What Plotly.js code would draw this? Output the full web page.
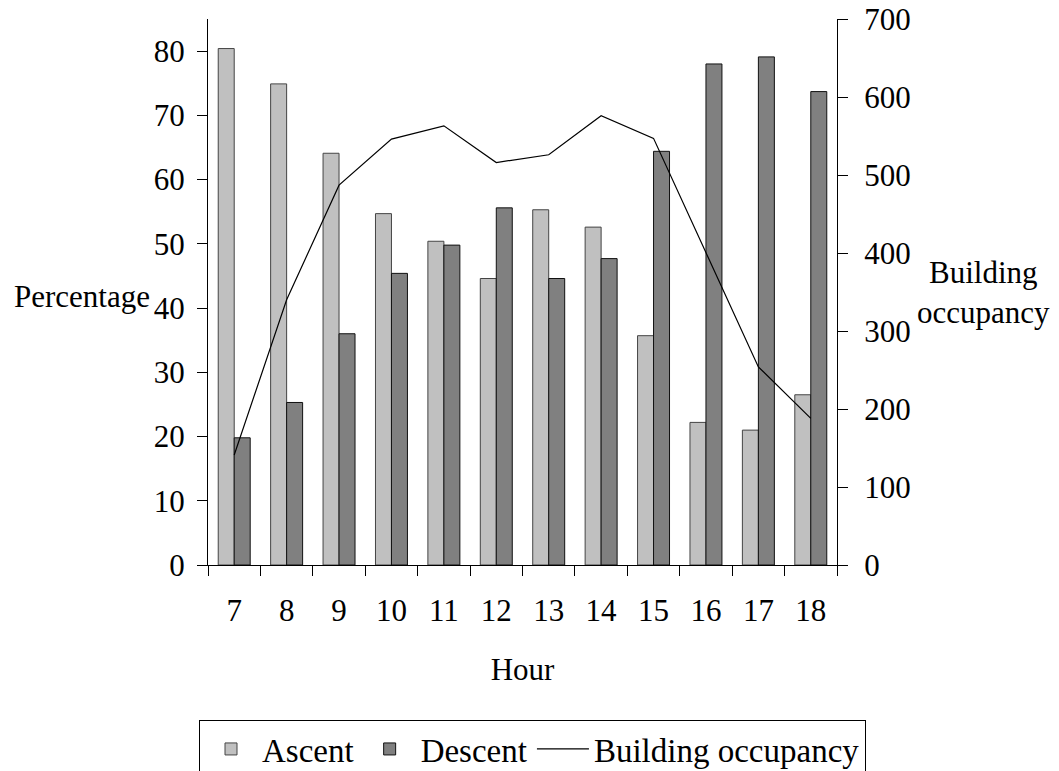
<!DOCTYPE html>
<html>
<head>
<meta charset="utf-8">
<script src="https://cdn.plot.ly/plotly-3.0.1.min.js"></script>
<style>html,body{margin:0;padding:0;background:#fff;}#chart{width:1059px;height:771px;}</style>
</head>
<body>
<div id="chart"></div>
<script>
const hours = ['7','8','9','10','11','12','13','14','15','16','17','18'];
const ascent = [80.4,74.9,64.1,54.7,50.4,44.6,55.3,52.6,35.7,22.2,21.0,26.5];
const descent = [19.8,25.3,36.0,45.4,49.8,55.6,44.6,47.7,64.4,78.0,79.1,73.7];
const occupancy = [141,340,487,546,563,516,526,576,547,400,254,188];

const FONT = 'Liberation Serif, Times New Roman, serif';
const FS = 31;

const traces = [
  {type:'bar', name:'Ascent', x:hours, y:ascent, yaxis:'y',
   marker:{color:'#c0c0c0', line:{color:'#444', width:1}}},
  {type:'bar', name:'Descent', x:hours, y:descent, yaxis:'y',
   marker:{color:'#808080', line:{color:'#111', width:1}}},
  {type:'scatter', mode:'lines', name:'Building occupancy', x:hours, y:occupancy, yaxis:'y2',
   line:{color:'#000', width:1.2}}
];

const common = {showgrid:false, zeroline:false, tickcolor:'#000', tickwidth:1, linecolor:'#000', linewidth:1, automargin:false};

const layout = {
  width:1059, height:771,
  margin:{l:208, r:222, t:19, b:206, autoexpand:false},
  paper_bgcolor:'#fff', plot_bgcolor:'#fff',
  font:{family:FONT, size:FS, color:'#000'},
  barmode:'group', bargap:0.39, bargroupgap:0,
  showlegend:true,
  legend:{orientation:'h', x:(199-208)/629, xanchor:'left',
          y:-(720-565)/546, yanchor:'top',
          bordercolor:'#000', borderwidth:1, font:{family:FONT, size:33},
          traceorder:'normal', itemwidth:52},
  xaxis:Object.assign({}, common, {type:'category', range:[-0.5,11.5], showline:true,
          ticks:'outside', ticklen:10, tickson:'boundaries', ticklabelstandoff:18,
          title:{text:'Hour', standoff:31, font:{family:FONT, size:FS}}}),
  xaxis2:Object.assign({}, common, {type:'linear', overlaying:'x', anchor:'y', range:[-0.5,11.5],
          tick0:-0.5, dtick:1, ticks:'inside', ticklen:10, showticklabels:false, showline:false}),
  yaxis:Object.assign({}, common, {range:[0,85], dtick:10, tick0:0, showline:true,
          ticks:'outside', ticklen:10, ticklabelstandoff:6}),
  yaxis2:Object.assign({}, common, {overlaying:'y', side:'right', range:[0,700], dtick:100, tick0:0,
          showline:true, ticks:'outside', ticklen:10, ticklabelstandoff:10}),
  yaxis3:Object.assign({}, common, {overlaying:'y', anchor:'x', range:[0,85], dtick:10, tick0:0,
          ticks:'inside', ticklen:10, showticklabels:false, showline:false}),
  yaxis4:Object.assign({}, common, {overlaying:'y', side:'right', anchor:'x', range:[0,700], dtick:100, tick0:0,
          ticks:'inside', ticklen:10, showticklabels:false, showline:false}),
  annotations:[
    {text:'Percentage', xref:'paper', yref:'paper', x:-0.089, y:0.492, xanchor:'right', yanchor:'middle',
     showarrow:false, font:{family:FONT, size:FS}},
    {text:'Building<br>occupancy', xref:'paper', yref:'paper', x:1.233, y:0.5, xanchor:'center', yanchor:'middle',
     showarrow:false, font:{family:FONT, size:FS}}
  ]
};

Plotly.newPlot('chart', traces, layout, {staticPlot:true, displayModeBar:false});
</script>
</body>
</html>
